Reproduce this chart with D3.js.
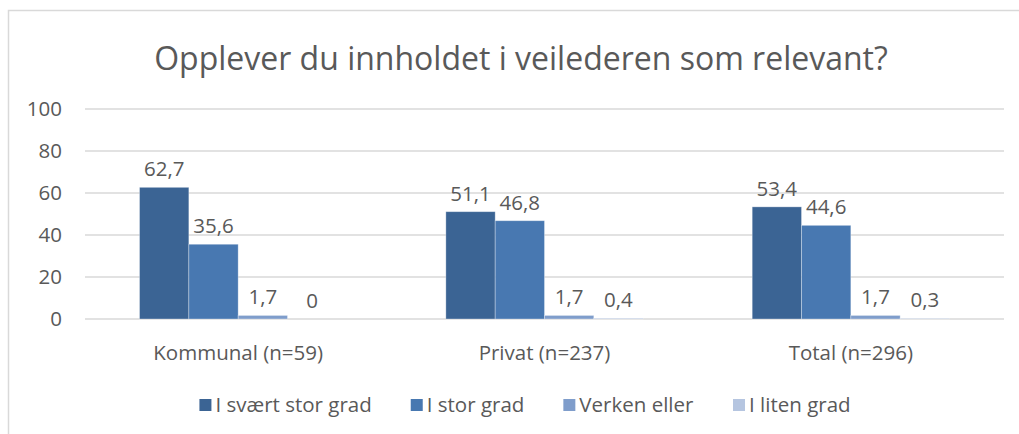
<!DOCTYPE html>
<html>
<head>
<meta charset="utf-8">
<script src="https://d3js.org/d3.v7.min.js"></script>
<style>
  body { margin: 0; background: #fff; }
  svg text { font-family: "Open Sans", sans-serif; fill: #595959; }
</style>
</head>
<body>
<div id="chart"></div>
<script>
"use strict"

var kategorier = ["Kommunal (n=59)", "Privat (n=237)", "Total (n=296)"];
var serier = ["I svært stor grad", "I stor grad", "Verken eller", "I liten grad"];
var svaertStorGrad = [62.7, 51.1, 53.4];
var storGrad = [35.6, 46.8, 44.6];
var verkenEller = [1.7, 1.7, 1.7];
var litenGrad = [0, 0.4, 0.3];
var yTicks = [0, 20, 40, 60, 80, 100];
var farger = ["#3b6494", "#4878b1", "#7f9dcb", "#b5c5e0"];

var verdier = [svaertStorGrad, storGrad, verkenEller, litenGrad];
var dados = kategorier.map(function(k, i) {
  return { kategori: k, verdier: serier.map(function(s, j) { return { serie: s, idx: j, v: verdier[j][i] }; }) };
});

var larguraSVG = 1019, alturaSVG = 434;
var margin = { top: 109, left: 85 };
var larguraVis = 1004 - margin.left;
var alturaVis = 319 - margin.top;
var fonte = "20.5px";

var svg = d3.select("#chart").append("svg")
  .attr("width", larguraSVG)
  .attr("height", alturaSVG);

// ramme rundt diagrammet
svg.append("rect")
  .attr("x", 8.5).attr("y", 10.5)
  .attr("width", 1100).attr("height", 500)
  .attr("fill", "none").attr("stroke", "#d9d9d9").attr("stroke-width", 1.5);

svg.append("text")
  .attr("x", 521).attr("y", 70)
  .attr("text-anchor", "middle")
  .style("font-size", "32px")
  .text("Opplever du innholdet i veilederen som relevant?");

var g = svg.append("g").attr("transform", "translate(" + margin.left + "," + margin.top + ")");

var x0 = d3.scaleBand().domain(kategorier).range([0, larguraVis]).paddingInner(0.356).paddingOuter(0.178);
var x1 = d3.scaleBand().domain(serier).range([0, x0.bandwidth()]);
var y = d3.scaleLinear().domain([0, 100]).range([alturaVis, 0]);

// rutenett
g.selectAll("line.grid").data(yTicks).enter().append("line")
  .attr("x1", 0).attr("x2", larguraVis)
  .attr("y1", function(d) { return y(d); }).attr("y2", function(d) { return y(d); })
  .attr("stroke", "#d9d9d9").attr("stroke-width", 1.5);

g.selectAll("text.ytick").data(yTicks).enter().append("text")
  .attr("x", -23).attr("y", function(d) { return y(d); })
  .attr("dy", "0.35em").attr("text-anchor", "end")
  .style("font-size", fonte)
  .text(function(d) { return d; });

var grupper = g.selectAll("g.gruppe").data(dados).enter().append("g")
  .attr("transform", function(d) { return "translate(" + x0(d.kategori) + ",0)"; });

grupper.selectAll("rect").data(function(d) { return d.verdier; }).enter().append("rect")
  .attr("x", function(d) { return x1(d.serie); })
  .attr("y", function(d) { return y(d.v); })
  .attr("width", x1.bandwidth())
  .attr("height", function(d) { return alturaVis - y(d.v); })
  .attr("fill", function(d) { return farger[d.idx]; })
  .attr("stroke", "#ffffff").attr("stroke-opacity", 0.4).attr("stroke-width", 0.8);

var fmt = function(v) { return String(v).replace(".", ","); };

grupper.selectAll("text.verdi").data(function(d) { return d.verdier; }).enter().append("text")
  .attr("x", function(d) { return x1(d.serie) + x1.bandwidth() / 2; })
  .attr("y", function(d) { return y(d.v) - 11; })
  .attr("text-anchor", "middle")
  .style("font-size", fonte)
  .text(function(d) { return fmt(d.v); });

g.selectAll("text.kat").data(kategorier).enter().append("text")
  .attr("x", function(d) { return x0(d) + x0.bandwidth() / 2; })
  .attr("y", alturaVis + 41)
  .attr("text-anchor", "middle")
  .style("font-size", fonte)
  .text(function(d) { return d; });

// forklaring
var legend = svg.append("g");
var items = legend.selectAll("g").data(serier).enter().append("g");
items.append("rect").attr("width", 12).attr("height", 12).attr("y", -13)
  .attr("fill", function(d, i) { return farger[i]; });
items.append("text").attr("x", 16).attr("y", 0)
  .style("font-size", fonte)
  .text(function(d) { return d; });
var pos = 0, gap = 39;
items.each(function() {
  var w = this.getBBox().width;
  d3.select(this).attr("data-x", pos);
  pos += w + gap;
});
var totalW = pos - gap;
var start = 525 - totalW / 2;
items.attr("transform", function() { return "translate(" + (start + (+this.getAttribute("data-x"))) + ",412)"; });
</script>
</body>
</html>
